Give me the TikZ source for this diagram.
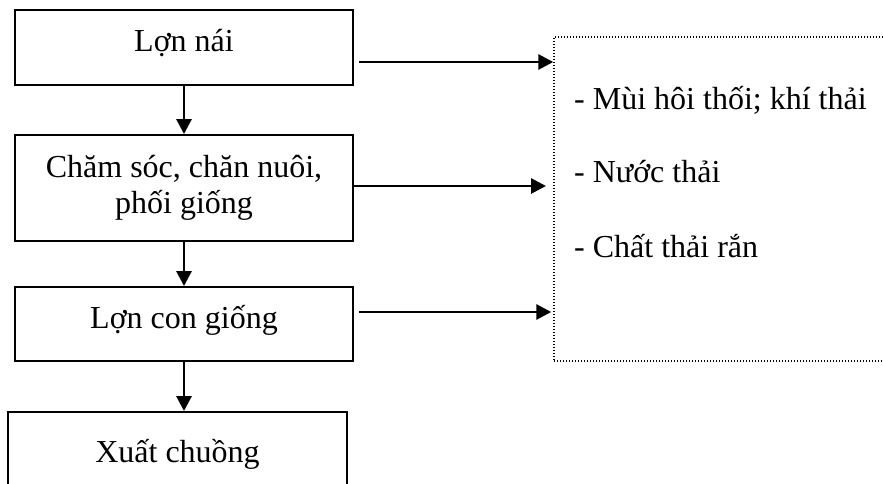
\documentclass[tikz,border=0pt]{standalone}
\usepackage{fontspec}
\setmainfont{Liberation Serif}
\usetikzlibrary{arrows.meta}
\begin{document}
\begin{tikzpicture}[x=1bp,y=-1bp,
  every node/.style={font=\fontsize{32bp}{36bp}\selectfont},
  stepbox/.style={draw, line width=1.9bp, rectangle, inner sep=0pt, minimum width=338bp, align=center, text height=24bp, text depth=15bp},
  flow/.style={line width=2.8bp, -{Triangle[length=15bp,width=15bp]}},
  outbox/.style={draw, line width=1.4bp, dash pattern=on 1.4bp off 1.6bp, rectangle, inner sep=0pt, minimum width=340bp, minimum height=324bp},
  item/.style={anchor=base west, inner sep=0pt},
  line/.style={anchor=base, inner sep=0pt}]
\useasboundingbox (0,0) rectangle (883,484);
\clip (0,0) rectangle (883,484);
\node[stepbox, minimum height=75bp] (b1) at (184,47.5) {Lợn nái};
\node[stepbox, minimum height=106bp] (b2) at (184,188) {};
\node[line] (b2a) at (184,178) {Chăm sóc, chăn nuôi,};
\node[line] (b2b) at (184,214) {phối giống};
\node[stepbox, minimum height=74bp] (b3) at (184,324) {Lợn con giống};
\node[stepbox, minimum width=339bp, minimum height=91bp] (b4) at (177.5,457.5) {Xuất chuồng};
\node[outbox] (out) at (724,199) {};
\node[item] (t1) at (574,110) {- Mùi hôi thối; khí thải};
\node[item] (t2) at (574,183) {- Nước thải};
\node[item] (t3) at (574,258) {- Chất thải rắn};
\draw[flow] (b1.south) -- (b2.north);
\draw[flow] (b2.south) -- (b3.north);
\draw[flow] (b3.south) -- (b3.south |- b4.north);
\coordinate (s1) at (359,62);
\coordinate (s3) at (359,312);
\coordinate (e2) at (546,186);
\draw[flow] (s1) -- (s1 -| out.west);
\draw[flow] (b2.east |- e2) -- (e2);
\draw[flow] (s3) -- ([xshift=-2bp]s3 -| out.west);
\end{tikzpicture}
\end{document}
